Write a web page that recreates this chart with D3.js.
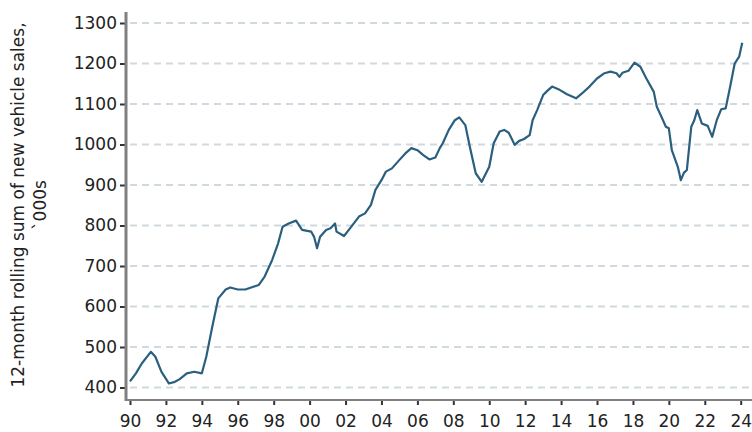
<!DOCTYPE html>
<html>
<head>
<meta charset="utf-8">
<script src="https://cdn.jsdelivr.net/npm/d3@7"></script>
<style>
  body { margin: 0; background: #fff; }
  text { font-family: "DejaVu Sans", Verdana, sans-serif; fill: #222; }
</style>
</head>
<body>
<script>
// monthly points (12-month rolling sum, '000s)
var months = [
  "1990-01","1990-05","1990-09","1991-03","1991-06","1991-10","1992-03","1992-07","1992-10","1993-03",
  "1993-08","1994-01","1994-04","1994-08","1994-12","1995-05","1995-08","1996-01","1996-06","1996-10",
  "1997-03","1997-07","1997-12","1998-04","1998-07","1998-11","1999-04","1999-08","2000-02","2000-04",
  "2000-06","2000-08","2000-12","2001-03","2001-06","2001-07","2001-12","2002-04","2002-10","2003-02",
  "2003-06","2003-09","2004-01","2004-04","2004-08","2005-01","2005-05","2005-09","2006-01","2006-05",
  "2006-09","2007-01","2007-04","2007-06","2007-10","2008-02","2008-05","2008-09","2008-12","2009-04",
  "2009-08","2010-01","2010-04","2010-08","2010-11","2011-02","2011-04","2011-06","2011-09","2011-12",
  "2012-04","2012-06","2012-09","2013-01","2013-04","2013-07","2013-12","2014-05","2014-11","2015-03",
  "2015-08","2016-01","2016-06","2016-10","2017-02","2017-04","2017-06","2017-10","2018-02","2018-06",
  "2018-10","2019-03","2019-05","2019-08","2019-11","2020-01","2020-03","2020-07","2020-09","2020-11",
  "2021-01","2021-04","2021-06","2021-08","2021-11","2022-03","2022-06","2022-09","2022-12","2023-03",
  "2023-06","2023-09","2023-12","2024-02"
];
var sales = [
  415, 435, 460, 488, 476, 439, 410, 414, 420, 435,
  439, 435, 476, 550, 620, 642, 647, 642, 642, 647,
  653, 674, 715, 756, 797, 805, 812, 789, 785, 772,
  744, 772, 789, 793, 805, 785, 774, 793, 822, 830,
  851, 888, 912, 933, 941, 962, 978, 991, 986, 974,
  963, 968, 991, 1003, 1036, 1060, 1067, 1048, 995, 929,
  908, 945, 1003, 1032, 1036, 1029, 1015, 999, 1009, 1013,
  1023, 1060, 1085, 1122, 1133, 1143, 1135, 1124, 1114, 1126,
  1143, 1163, 1176, 1180, 1176, 1167, 1177, 1182, 1202, 1192,
  1163, 1130, 1093, 1069, 1044, 1040, 986, 945, 912, 930,
  937, 1044, 1060, 1085, 1052, 1046, 1019, 1060, 1087, 1089,
  1143, 1200, 1217, 1251
];
var yTicks = [400, 500, 600, 700, 800, 900, 1000, 1100, 1200, 1300];
var xTickYears = d3.range(1990, 2025, 2);

window.onload = function(){

    var w = 752, h = 432;
    var parseMonth = d3.timeParse("%Y-%m");

    var data = months.map(function(m, i){
        return { date: parseMonth(m), value: sales[i] };
    });

    var svg = d3.select("body")
        .append("svg")
        .attr("width", w)
        .attr("height", h);

    var x = d3.scaleTime()
        .domain([new Date(1990, 0, 1), new Date(2024, 0, 1)])
        .range([130, 740.7]);

    var y = d3.scaleLinear()
        .domain([400, 1300])
        .range([387.5, 23]);

    //dashed gridlines
    svg.selectAll(".grid")
        .data(yTicks)
        .enter()
        .append("line")
        .attr("class", "grid")
        .attr("x1", 130)
        .attr("x2", w)
        .attr("y1", function(d){ return y(d); })
        .attr("y2", function(d){ return y(d); })
        .style("stroke", "#cfd9df")
        .style("stroke-width", 2)
        .style("stroke-dasharray", "7,5");

    //the series
    var line = d3.line()
        .x(function(d){ return x(d.date); })
        .y(function(d){ return y(d.value); });

    svg.append("path")
        .datum(data)
        .attr("d", line)
        .style("fill", "none")
        .style("stroke", "#2b5f7f")
        .style("stroke-width", 2.2)
        .style("stroke-linejoin", "round");

    //y axis
    var yAxis = d3.axisLeft(y)
        .tickValues(yTicks)
        .tickFormat(d3.format("d"))
        .tickSize(6)
        .tickPadding(3);

    var gy = svg.append("g")
        .attr("transform", "translate(126,0)")
        .call(yAxis);
    gy.select(".domain").remove();
    gy.selectAll(".tick line").style("stroke", "#333").style("stroke-width", 2);
    gy.selectAll(".tick text")
        .style("font-size", "17px")
        .style("font-family", "DejaVu Sans, Verdana, sans-serif")
        .attr("fill", "#222");

    //x axis
    var xAxis = d3.axisBottom(x)
        .tickValues(xTickYears.map(function(yr){ return new Date(yr, 0, 1); }))
        .tickFormat(d3.timeFormat("%y"))
        .tickSize(5)
        .tickPadding(10);

    var gx = svg.append("g")
        .attr("transform", "translate(0,400)")
        .call(xAxis);
    gx.select(".domain").remove();
    gx.selectAll(".tick line").style("stroke", "#333").style("stroke-width", 2);
    gx.selectAll(".tick text")
        .style("font-size", "17px")
        .style("font-family", "DejaVu Sans, Verdana, sans-serif")
        .attr("fill", "#222");

    //axis lines
    svg.append("line")
        .attr("x1", 126).attr("x2", w)
        .attr("y1", 400).attr("y2", 400)
        .style("stroke", "#808080")
        .style("stroke-width", 2);

    svg.append("line")
        .attr("x1", 126).attr("x2", 126)
        .attr("y1", 12).attr("y2", 401)
        .style("stroke", "#808080")
        .style("stroke-width", 3);

    //y title, two lines
    var title = svg.append("text")
        .attr("transform", "translate(18,205) rotate(-90)")
        .attr("text-anchor", "middle")
        .style("font-size", "17px");
    title.append("tspan")
        .attr("x", 0)
        .attr("dy", "0.35em")
        .text("12-month rolling sum of new vehicle sales,");
    title.append("tspan")
        .attr("x", 0)
        .attr("dy", 22)
        .text("`000s");
};
</script>
</body>
</html>
